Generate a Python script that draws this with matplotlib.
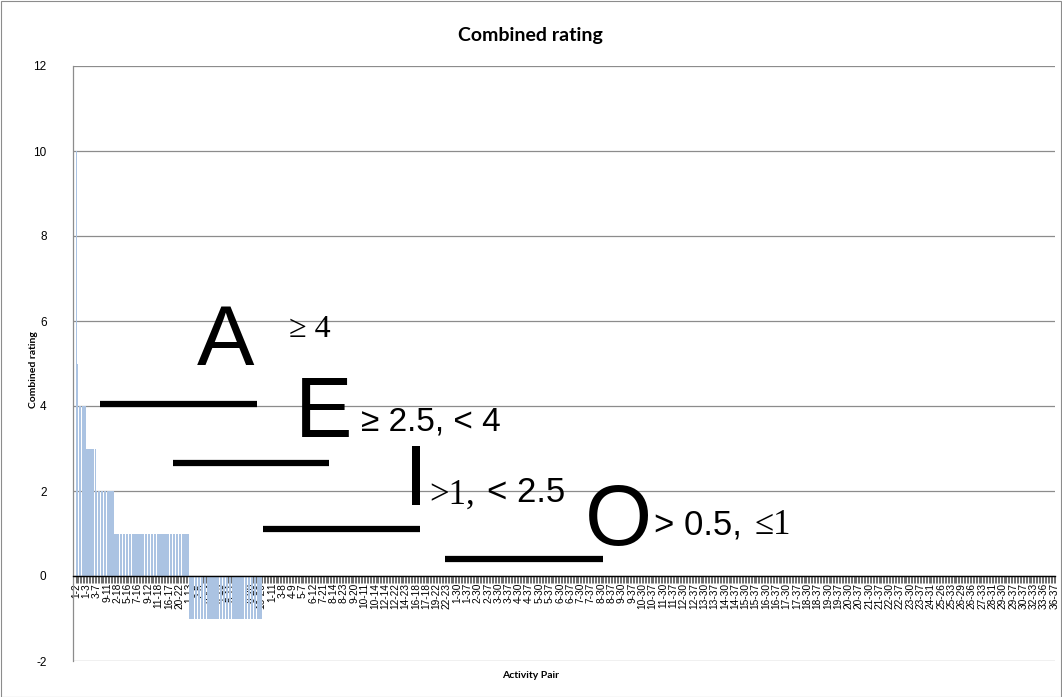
import numpy as np
import matplotlib
matplotlib.use("Agg")
import matplotlib.pyplot as plt
from matplotlib.patches import Rectangle

plt.rcParams["axes.unicode_minus"] = False

# Combined rating levels in sorted order, and how many activity pairs hold each
rating_levels = [10, 5, 4, 3, 2, 1, -1, 0]
rating_counts = [1, 1, 5, 7, 12, 51, 50, 126]

# Activities 1-23 were rated against each other; pairs involving 24-37 were left blank
n_activities = 37
last_rated = 23

# Every 7th label along the rated part of the axis
rated_tick_labels = [
    "1-2", "1-3", "3-7", "9-11", "2-18", "5-16", "7-16", "9-12", "11-18",
    "16-17", "20-22", "1-13", "2-5", "3-14", "4-15", "5-11", "5-20", "6-20",
    "16-20", "1-11", "3-8", "4-9", "5-7", "6-12", "7-21", "8-14", "8-23",
    "9-20", "10-11", "10-14", "12-14", "12-22", "14-23", "16-18", "17-18",
    "19-22", "22-23",
]
label_step = 7

# Closeness classes and their rating bands
class_letters = ["A", "E", "I", "O"]
class_bands = ["\u2265 4", "\u2265 2.5, < 4", ">1, < 2.5", "> 0.5, \u22641"]

rated_values = np.repeat(rating_levels, rating_counts).astype(float)
blank_pairs = [f"{i}-{j}" for i in range(1, n_activities)
               for j in range(max(i + 1, last_rated + 1), n_activities + 1)]
values = np.concatenate([rated_values, np.zeros(len(blank_pairs))])
n_cat = len(values)

labels = [""] * n_cat
for k, lab in enumerate(rated_tick_labels):
    labels[k * label_step] = lab
for k, lab in enumerate(blank_pairs):
    labels[len(rated_values) + k] = lab

W, H = 1062, 697
fig = plt.figure(figsize=(W / 100, H / 100), dpi=100)
fig.patch.set_facecolor("white")

ax_left, ax_right, ax_top, ax_bottom = 73, 1055, 66, 661
ax = fig.add_axes([ax_left / W, 1 - ax_bottom / H,
                   (ax_right - ax_left) / W, (ax_bottom - ax_top) / H])

x = np.arange(n_cat)
ax.bar(x, values, width=0.8, color="#abc3e2", edgecolor="none", zorder=2)

ax.set_xlim(-2.2, n_cat - 0.5)
ax.set_ylim(-2, 12)
ax.set_yticks(np.arange(-2, 13, 2))
ax.yaxis.grid(True, color="#8c8c8c", linewidth=0.9, zorder=0)
ax.set_axisbelow(True)

for s in ["top", "right"]:
    ax.spines[s].set_visible(False)
ax.spines["left"].set_color("#8c8c8c")
ax.spines["left"].set_linewidth(0.9)
ax.spines["bottom"].set_position(("data", 0))
ax.spines["bottom"].set_color("#000000")
ax.spines["bottom"].set_linewidth(1.0)
ax.spines["bottom"].set_zorder(3)

tick_idx = np.arange(0, n_cat, label_step)
ax.set_xticks(tick_idx)
ax.set_xticklabels([labels[i] for i in tick_idx], rotation=90,
                   fontsize=7.3, family="Liberation Sans")
ax.set_xticks(np.arange(-0.5, n_cat, 1), minor=True)
ax.tick_params(axis="x", which="major", length=0, pad=5)
ax.tick_params(axis="x", which="minor", length=5, width=0.5, color="#333333")
ax.tick_params(axis="y", length=0, pad=19, labelsize=8.5)
for t in ax.get_yticklabels():
    t.set_family("Liberation Sans")

# Class threshold bars
band_lines = [(16, 123, 4.05), (65.5, 172, 2.66), (127, 233.5, 1.1), (251, 358, 0.4)]
for x0, x1, yv in band_lines:
    ax.plot([x0, x1], [yv, yv], color="black", linewidth=4.5,
            solid_capstyle="butt", zorder=5, clip_on=False)

# Class letters and rating bands
letter_pos = [(82, 4.96), (148.7, 3.27), (223, 1.67), (346, 0.73)]
for (cx, cy), letter in zip(letter_pos, class_letters):
    ax.text(cx, cy, letter, fontsize=62, family="Liberation Sans",
            va="baseline", ha="left", zorder=6)

serif = "Liberation Serif"
sans = "Liberation Sans"
ax.text(144.6, 5.79, class_bands[0], fontsize=23, family=serif, va="center", ha="left")
ax.text(193.5, 3.62, class_bands[1], fontsize=24, family=sans, va="center", ha="left")
ax.text(239.8, 1.9, ">1,", fontsize=25, family=serif, va="center", ha="left")
ax.text(279, 1.97, "< 2.5", fontsize=25, family=sans, va="center", ha="left")
ax.text(393, 1.2, "> 0.5,", fontsize=25, family=sans, va="center", ha="left")
ax.text(461, 1.2, "\u22641", fontsize=25, family=serif, va="center", ha="left")

fig.text(530 / W, 1 - 35 / H, "Combined rating", ha="center", va="center",
         fontsize=14, fontweight="bold", family="Lato")
fig.text(33 / W, 1 - 370 / H, "Combined rating", ha="center", va="center",
         rotation=90, fontsize=7.5, fontweight="bold", family="Lato")
fig.text(531 / W, 1 - 675 / H, "Activity Pair", ha="center", va="center",
         fontsize=7.5, fontweight="bold", family="Lato")

fig.patches.append(Rectangle((0.5 / W, 0.5 / H), 1 - 1.5 / W, 1 - 1.5 / H,
                             transform=fig.transFigure, fill=False,
                             edgecolor="#8c8c8c", linewidth=0.8))

fig.savefig("out.png", dpi=100)
